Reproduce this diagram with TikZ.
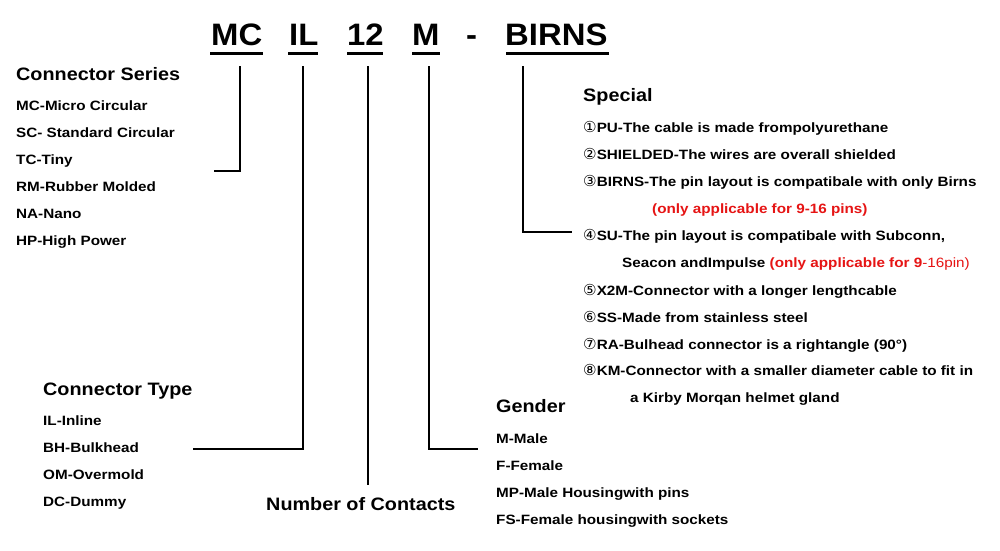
\documentclass[tikz,border=0pt]{standalone}
\usepackage{fontspec}
\setmainfont[FakeStretch=1.13]{Liberation Sans}
\newfontfamily\titlefont[FakeStretch=1.10]{Liberation Sans}
\newfontfamily\headfont[FakeStretch=1.06]{Liberation Sans}
\newfontfamily\sym[Scale=1.12]{DejaVu Sans}
\definecolor{redtxt}{RGB}{230,20,20}
\tikzset{
  head/.style={font=\headfont\fontsize{31}{34}\selectfont\bfseries, inner sep=0pt, anchor=base west},
  title/.style={font=\titlefont\fontsize{18}{20}\selectfont\bfseries, inner sep=0pt, anchor=base west},
  item/.style={font=\fontsize{13.5}{16}\selectfont\bfseries, inner sep=0pt, anchor=base west},
  uline/.style={line width=3pt},
  conn/.style={line width=2pt},
}
\newcommand{\cn}[1]{{\sym\mdseries #1}}
\begin{document}
\begin{tikzpicture}[x=1pt,y=-1pt]
\useasboundingbox[fill=white] (0,0) rectangle (1000,550);
% header
\node[head] (hMC) at (211,45) {MC};
\node[head] (hIL) at (289,45) {IL};
\node[head] (h12) at (347,45) {12};
\node[head] (hM) at (412,45) {M};
\node[head] (hDash) at (466,45) {-};
\node[head] (hB) at (505,45) {BIRNS};
\draw[uline] (210,53) -- (263,53);
\draw[uline] (288,53) -- (318,53);
\draw[uline] (347,53) -- (383,53);
\draw[uline] (412,53) -- (440,53);
\draw[uline] (506,53) -- (609,53);
% Connector Series
\node[title] (cs) at (16,80) {Connector Series};
\node[item] (cs1) at (16,110) {MC-Micro Circular};
\node[item] (cs2) at (16,137) {SC- Standard Circular};
\node[item] (cs3) at (16,164) {TC-Tiny};
\node[item] (cs4) at (16,191) {RM-Rubber Molded};
\node[item] (cs5) at (16,218) {NA-Nano};
\node[item] (cs6) at (16,245) {HP-High Power};
% Connector Type
\node[title] (ct) at (43,395) {Connector Type};
\node[item] (ct1) at (43,425) {IL-Inline};
\node[item] (ct2) at (43,452) {BH-Bulkhead};
\node[item] (ct3) at (43,479) {OM-Overmold};
\node[item] (ct4) at (43,506) {DC-Dummy};
% Number of contacts
\node[title] (nc) at (266,510) {Number of Contacts};
% Gender
\node[title] (g) at (496,412) {Gender};
\node[item] (g1) at (496,443) {M-Male};
\node[item] (g2) at (496,470) {F-Female};
\node[item] (g3) at (496,497) {MP-Male Housingwith pins};
\node[item] (g4) at (496,524) {FS-Female housingwith sockets};
% Special
\node[title] (sp) at (583,101) {Special};
\node[item] (sp1) at (583,132) {\cn{①}PU-The cable is made frompolyurethane};
\node[item] (sp2) at (583,159) {\cn{②}SHIELDED-The wires are overall shielded};
\node[item] (sp3) at (583,186) {\cn{③}BIRNS-The pin layout is compatibale with only Birns};
\node[item,text=redtxt] (sp3b) at (652,213) {(only applicable for 9-16 pins)};
\node[item] (sp4) at (583,240) {\cn{④}SU-The pin layout is compatibale with Subconn,};
\node[item] (sp4b) at (622,267) {Seacon andImpulse \textcolor{redtxt}{(only applicable for 9}\textcolor{redtxt}{\mdseries -16pin)}};
\node[item] (sp5) at (583,295) {\cn{⑤}X2M-Connector with a longer lengthcable};
\node[item] (sp6) at (583,322) {\cn{⑥}SS-Made from stainless steel};
\node[item] (sp7) at (583,349) {\cn{⑦}RA-Bulhead connector is a rightangle (90°)};
\node[item] (sp8) at (583,375) {\cn{⑧}KM-Connector with a smaller diameter cable to fit in};
\node[item] (sp8b) at (630,402) {a Kirby Morqan helmet gland};
% connectors
\coordinate (mcTop) at (240,66);  \coordinate (mcEnd) at (214,171);
\coordinate (ilTop) at (303,66);  \coordinate (ilEnd) at (193,449);
\coordinate (nTop) at (368,66);   \coordinate (nEnd) at (368,485);
\coordinate (mTop) at (429,66);   \coordinate (mEnd) at (478,449);
\coordinate (bTop) at (523,66);   \coordinate (bEnd) at (572,232);
\draw[conn] (mcTop) |- (mcEnd);
\draw[conn] (ilTop) |- (ilEnd);
\draw[conn] (nTop) -- (nEnd);
\draw[conn] (mTop) |- (mEnd);
\draw[conn] (bTop) |- (bEnd);
\end{tikzpicture}
\end{document}
